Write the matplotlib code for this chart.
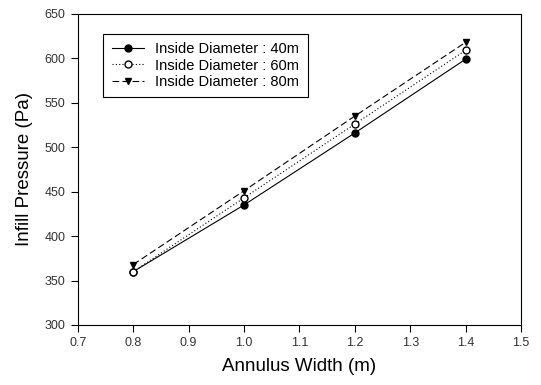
import matplotlib
matplotlib.use("Agg")
import matplotlib.pyplot as plt

plt.rcParams['font.family'] = ['Liberation Sans', 'DejaVu Sans']

# Data
width = [0.8, 1.0, 1.2, 1.4]
p40 = [360, 435, 516, 599]
p60 = [360, 443, 526, 609]
p80 = [368, 451, 535, 618]

fig = plt.figure(figsize=(5.41, 3.85), dpi=100)
ax = fig.add_axes([0.144, 0.156, 0.819, 0.808])

ax.plot(width, p40, color='black', linestyle='-', linewidth=0.8, marker='o',
        markersize=5, label='Inside Diameter : 40m')
ax.plot(width, p60, color='black', linestyle=(0, (1, 2)), linewidth=0.8, marker='o',
        markersize=5, markerfacecolor='white', label='Inside Diameter : 60m')
ax.plot(width, p80, color='black', linestyle=(0, (6, 3)), linewidth=0.8, marker='v',
        markersize=5, label='Inside Diameter : 80m')

ax.set_xlim(0.7, 1.5)
ax.set_ylim(300, 650)
ax.set_xticks([0.7, 0.8, 0.9, 1.0, 1.1, 1.2, 1.3, 1.4, 1.5])
ax.set_yticks(range(300, 651, 50))
ax.tick_params(direction='out', length=5, width=0.8, labelsize=9, colors='black',
               labelcolor='#333333', top=False, right=False, pad=4)
for s in ax.spines.values():
    s.set_linewidth(0.8)

ax.set_xlabel('Annulus Width (m)', fontsize=13.5, labelpad=6)
ax.set_ylabel('Infill Pressure (Pa)', fontsize=13.5, labelpad=8)

leg = ax.legend(loc='upper left', bbox_to_anchor=(0.04, 0.96), fontsize=10.5,
                fancybox=False, framealpha=1, edgecolor='black', handlelength=2.2,
                handletextpad=0.8, borderpad=0.6, labelspacing=0.15)
leg.get_frame().set_linewidth(0.8)

fig.savefig('out.png', dpi=100)
